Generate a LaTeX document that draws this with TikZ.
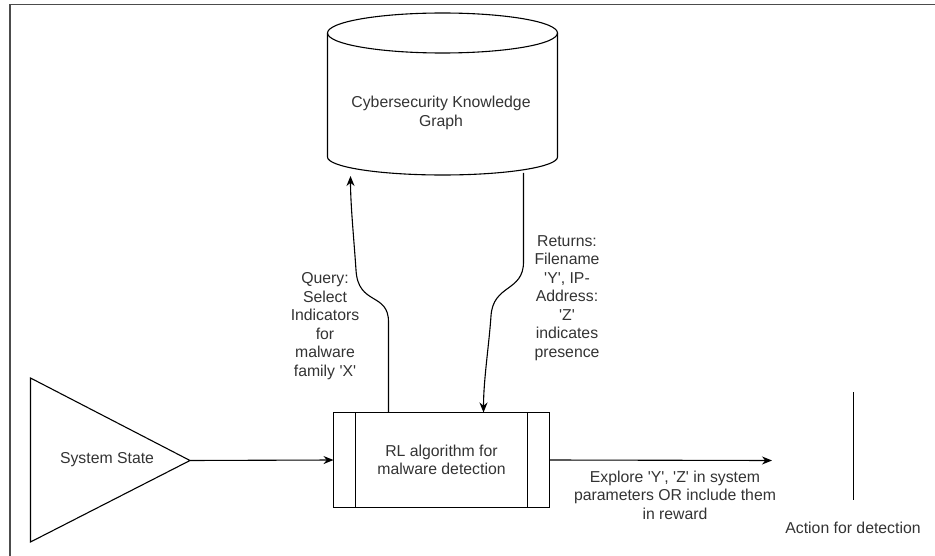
\documentclass[tikz,border=0pt]{standalone}
\usepackage{fontspec}
\setmainfont{Liberation Sans}
\usetikzlibrary{arrows.meta}
\newcommand{\sq}{\textquotesingle}
\begin{document}
\begin{tikzpicture}[x=1pt,y=-1pt,line width=1.1pt,
  lbl/.style={text=black!80, font=\fontsize{15.8}{18.5}\selectfont, align=center, inner sep=0pt},
  flow/.style={-{Stealth[length=10pt,width=8pt]}},
  frame/.style={draw=black!70, line width=1.4pt}]
\useasboundingbox (0,0) rectangle (935,556);
% outer frame (top and left edges)
\draw[frame] (935,4.5) -- (10,4.5) -- (10,556);

% knowledge graph cylinder
\draw (327.5,33) -- (327.5,157) arc[start angle=180, end angle=0, x radius=115, y radius=18] -- (557.5,33);
\draw (442.5,33) ellipse[x radius=115, y radius=20];
\node[lbl] (kg) at (441,113) {Cybersecurity Knowledge\\Graph};
\coordinate (kgq) at (350.5,176);
\coordinate (kgr) at (523.5,173);

% RL algorithm box
\node[draw, minimum width=216pt, minimum height=95pt, inner sep=0pt, outer sep=0pt] (rl) at (441.5,460) {};
\node[lbl] (rltext) at (rl.center) {RL algorithm for\\malware detection};
\draw ([xshift=22pt]rl.north west) -- ([xshift=22pt]rl.south west);
\draw ([xshift=-22pt]rl.north east) -- ([xshift=-22pt]rl.south east);
\coordinate (qs) at (388.5,412.5);
\coordinate (re) at (483.5,412.5);

% system state triangle
\draw (30.5,378) -- (190,460.5) -- (30.5,542) -- cycle;
\coordinate (tip) at (190,460.5);
\node[lbl] (state) at (107,460) {System State};

% action marker
\coordinate (acttop) at (853.5,392);
\coordinate (actbot) at (853.5,500);
\draw (acttop) -- (actbot);
\node[lbl] (act) at (853,528) {Action for detection};
\coordinate (out) at (772,460.5);

% connectors
\draw[flow] (tip) -- (rl.west);
\draw[flow] (rl.east) -- (out);
\draw[flow] (qs) -- (388.5,322) .. controls (388.5,292) and (358,306) .. (356,270)
  .. controls (354,240) and (350.5,205) .. (kgq);
\draw[flow] (kgr) -- (523.5,262) .. controls (523.5,292) and (493,284) .. (491,316)
  .. controls (489,345) and (483.5,380) .. (re);

% connector labels
\node[lbl] (qlbl) at (325,326) {Query:\\Select\\Indicators\\for\\malware\\family \sq X\sq};
\node[lbl] (rlbl) at (567,298) {Returns:\\Filename\\\sq Y\sq, IP-\\Address:\\\sq Z\sq\\indicates\\presence};
\node[lbl] (elbl) at (675,495) {Explore \sq Y\sq, \sq Z\sq{} in system\\parameters OR include them\\in reward};
\end{tikzpicture}
\end{document}
